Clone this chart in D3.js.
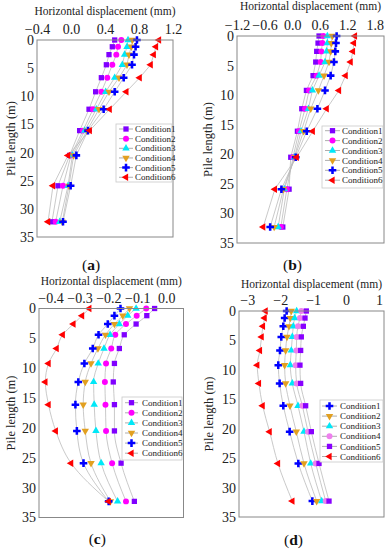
<!DOCTYPE html>
<html>
<head>
<meta charset="utf-8">
<script src="https://cdn.jsdelivr.net/npm/d3@7"></script>
<style>
  body { margin: 0; background: #fff; }
  svg { display: block; font-family: "Liberation Serif", "DejaVu Serif", serif; }
  .axis text { font-size: 14px; fill: #222; font-family: "Liberation Serif", serif; }
  .axis path { display: none; }
  .title { font-size: 11.5px; fill: #222; }
  .ylabel { font-size: 12.5px; fill: #222; }
  .legend text { font-size: 9px; fill: #222; }
  .legend rect { fill: #fff; stroke: #c8c8c8; stroke-width: 0.8; }
  .frame { fill: none; stroke: #888; stroke-width: 1; }
  .series { fill: none; stroke: #bbb; stroke-width: 0.8; }
  .panel-tag { font-size: 15.5px; fill: #111; }
</style>
</head>
<body>
<svg id="chart" width="388" height="550"></svg>
<script>
// depth below pile head (m), shared by all four panels
const depth = [0, 1.2, 2.6, 4.4, 6.7, 9.2, 12.3, 16.1, 20.5, 25.9, 32.3];
const conditions = ["Condition1", "Condition2", "Condition3", "Condition4", "Condition5", "Condition6"];
const yTicks = [0, 5, 10, 15, 20, 25, 30, 35];

const xTicksA = [-0.4, 0, 0.4, 0.8, 1.2];
const xTicksB = [-1.2, -0.6, 0, 0.6, 1.2, 1.8];
const xTicksC = [-0.4, -0.3, -0.2, -0.1, 0];
const xTicksD = [-3, -2, -1, 0, 1];

// horizontal displacement (mm), one row per condition
const dispA = [
  [0.514, 0.486, 0.447, 0.416, 0.357, 0.290, 0.212, 0.102, -0.016, -0.153, -0.224],
  [0.592, 0.553, 0.533, 0.486, 0.427, 0.357, 0.259, 0.141, 0.000, -0.094, -0.180],
  [0.671, 0.659, 0.631, 0.604, 0.514, 0.408, 0.298, 0.161, 0.016, -0.035, -0.133],
  [0.722, 0.710, 0.682, 0.659, 0.565, 0.447, 0.329, 0.188, 0.031, -0.024, -0.102],
  [0.776, 0.760, 0.741, 0.718, 0.620, 0.514, 0.384, 0.200, 0.063, -0.004, -0.094],
  [1.035, 1.000, 0.973, 0.937, 0.808, 0.651, 0.455, 0.220, -0.035, -0.212, -0.270]
];
const dispB = [
  [0.586, 0.564, 0.535, 0.514, 0.456, 0.311, 0.210, 0.115, -0.030, -0.066, -0.203],
  [0.680, 0.658, 0.636, 0.622, 0.535, 0.369, 0.282, 0.150, 0.020, -0.115, -0.246],
  [0.767, 0.767, 0.752, 0.716, 0.586, 0.441, 0.355, 0.195, 0.050, -0.170, -0.304],
  [0.875, 0.853, 0.839, 0.803, 0.694, 0.571, 0.405, 0.250, 0.060, -0.190, -0.391],
  [0.969, 0.955, 0.940, 0.911, 0.839, 0.716, 0.550, 0.318, 0.080, -0.233, -0.478],
  [1.367, 1.345, 1.323, 1.273, 1.164, 1.020, 0.752, 0.449, 0.100, -0.376, -0.630]
];
const dispC = [
  [-0.040, -0.067, -0.104, -0.145, -0.162, -0.179, -0.183, -0.179, -0.179, -0.156, -0.110],
  [-0.069, -0.102, -0.139, -0.176, -0.190, -0.208, -0.212, -0.210, -0.208, -0.187, -0.139],
  [-0.104, -0.133, -0.162, -0.194, -0.215, -0.235, -0.251, -0.249, -0.243, -0.225, -0.168],
  [-0.127, -0.150, -0.179, -0.210, -0.236, -0.260, -0.280, -0.287, -0.280, -0.260, -0.193],
  [-0.158, -0.179, -0.202, -0.234, -0.254, -0.283, -0.304, -0.314, -0.309, -0.286, -0.199],
  [-0.266, -0.291, -0.321, -0.358, -0.379, -0.407, -0.418, -0.407, -0.382, -0.329, -0.199]
];
const dispD = [
  [-1.804, -1.865, -1.906, -1.967, -2.007, -2.058, -2.017, -1.906, -1.713, -1.450, -1.024],
  [-1.663, -1.693, -1.733, -1.794, -1.835, -1.865, -1.835, -1.703, -1.511, -1.278, -0.893],
  [-1.500, -1.561, -1.602, -1.632, -1.663, -1.693, -1.632, -1.460, -1.278, -1.075, -0.741],
  [-1.359, -1.400, -1.460, -1.500, -1.510, -1.531, -1.500, -1.328, -1.156, -0.923, -0.619],
  [-1.207, -1.247, -1.298, -1.359, -1.379, -1.400, -1.379, -1.227, -1.055, -0.822, -0.518],
  [-2.443, -2.473, -2.524, -2.564, -2.615, -2.696, -2.645, -2.534, -2.321, -2.068, -1.632]
];

// marker look per condition
const mk = {
  square: {type: d3.symbolSquare, size: 28, rot: 0},
  circle: {type: d3.symbolCircle, size: 28, rot: 0},
  up: {type: d3.symbolTriangle, size: 24, rot: 0},
  down: {type: d3.symbolTriangle, size: 24, rot: 180},
  cross: {type: d3.symbolCross, size: 32, rot: 0},
  left: {type: d3.symbolTriangle, size: 24, rot: -90}
};
const markersABC = [
  {...mk.square, color: "#8000ff"},
  {...mk.circle, color: "#ff00ff"},
  {...mk.up, color: "#00e8f8"},
  {...mk.down, color: "#e2a020"},
  {...mk.cross, color: "#0000ff"},
  {...mk.left, color: "#ff0000"}
];
const markersD = [
  {...mk.cross, color: "#0000ff"},
  {...mk.down, color: "#e2a020"},
  {...mk.up, color: "#00e8f8"},
  {...mk.circle, color: "#ee80ee"},
  {...mk.square, color: "#8800ff"},
  {...mk.left, color: "#ff0000"}
];

const panels = [
  {tag: "a", data: dispA, ticks: xTicksA, fmt: ".1f", domain: [-0.4, 1.2], markers: markersABC, curve: d3.curveLinear,
   box: {left: 37, right: 173, top: 40, bottom: 237}, titleY: 15, ylabX: 11, tagY: 270,
   legend: {x0: 116, x1: 172, y0: 124, y1: 182, row0: 129, step: 9.65, l0: 119, l1: 133, tx: 135}},
  {tag: "b", data: dispB, ticks: xTicksB, fmt: ".1f", domain: [-1.2, 2.0], markers: markersABC, curve: d3.curveLinear,
   box: {left: 237, right: 384, top: 36, bottom: 243}, titleY: 10, ylabX: 208, tagY: 270,
   legend: {x0: 322, x1: 383, y0: 126, y1: 188, row0: 130.7, step: 9.9, l0: 325, l1: 340, tx: 342}},
  {tag: "c", data: dispC, ticks: xTicksC, fmt: ".1f", domain: [-0.44, 0.06], markers: markersABC, curve: d3.curveMonotoneY,
   box: {left: 39, right: 183.5, top: 308.5, bottom: 517.5}, titleY: 285, ylabX: 11, tagY: 544,
   legend: {x0: 122, x1: 182, y0: 397, y1: 460, row0: 402.7, step: 10.1, l0: 125, l1: 138, tx: 142}},
  {tag: "d", data: dispD, ticks: xTicksD, fmt: "d", domain: [-3.25, 1.15], markers: markersD, curve: d3.curveMonotoneY,
   box: {left: 239, right: 384, top: 311, bottom: 517}, titleY: 288, ylabX: 209, tagY: 545,
   legend: {x0: 320, x1: 383, y0: 400, y1: 462, row0: 406, step: 10.1, l0: 322, l1: 337, tx: 340}}
];

const symbolPath = (m) => d3.symbol().type(m.type).size(m.size)();

const drawPanel = (svg, p) => {
  const b = p.box;
  const g = svg.append("g").attr("class", "panel-" + p.tag);

  const x = d3.scaleLinear().domain(p.domain).range([b.left, b.right]);
  const y = d3.scaleLinear().domain([0, 35]).range([b.top, b.bottom]);

  g.append("g")
    .attr("class", "axis")
    .attr("transform", `translate(0,${b.top})`)
    .call(d3.axisTop(x).tickValues(p.ticks).tickFormat(d3.format(p.fmt)).tickSize(0).tickPadding(6));

  g.append("g")
    .attr("class", "axis")
    .attr("transform", `translate(${b.left},0)`)
    .call(d3.axisLeft(y).tickValues(yTicks).tickSize(0).tickPadding(3));

  g.append("text")
    .attr("class", "title")
    .attr("x", (b.left + b.right) / 2)
    .attr("y", p.titleY)
    .attr("text-anchor", "middle")
    .text("Horizontal displacement (mm)");

  g.append("text")
    .attr("class", "ylabel")
    .attr("transform", `translate(${p.ylabX},${(b.top + b.bottom) / 2}) rotate(-90)`)
    .attr("text-anchor", "middle")
    .attr("dy", "0.35em")
    .text("Pile length (m)");

  const line = d3.line()
    .x(d => x(d[0]))
    .y(d => y(d[1]))
    .curve(p.curve);

  p.data.forEach((row, i) => {
    const pts = row.map((v, k) => [v, depth[k]]);
    g.append("path").attr("class", "series").attr("d", line(pts));
  });

  p.data.forEach((row, i) => {
    const m = p.markers[i];
    g.append("g")
      .selectAll("path")
      .data(row.map((v, k) => [v, depth[k]]))
      .join("path")
      .attr("d", symbolPath(m))
      .attr("fill", m.color)
      .attr("transform", d => `translate(${x(d[0])},${y(d[1])}) rotate(${m.rot})`);
  });

  g.append("rect")
    .attr("class", "frame")
    .attr("x", b.left)
    .attr("y", b.top)
    .attr("width", b.right - b.left)
    .attr("height", b.bottom - b.top);

  const L = p.legend;
  const lg = g.append("g").attr("class", "legend");
  lg.append("rect")
    .attr("x", L.x0).attr("y", L.y0)
    .attr("width", L.x1 - L.x0).attr("height", L.y1 - L.y0);
  conditions.forEach((name, i) => {
    const ry = L.row0 + i * L.step;
    const m = p.markers[i];
    lg.append("line")
      .attr("x1", L.l0).attr("x2", L.l1)
      .attr("y1", ry).attr("y2", ry)
      .attr("stroke", "#999").attr("stroke-width", 0.8);
    lg.append("path")
      .attr("d", symbolPath(m))
      .attr("fill", m.color)
      .attr("transform", `translate(${(L.l0 + L.l1) / 2},${ry}) rotate(${m.rot})`);
    lg.append("text")
      .attr("x", L.tx).attr("y", ry)
      .attr("dy", "0.35em")
      .text(name);
  });

  const tag = g.append("text")
    .attr("class", "panel-tag")
    .attr("x", (b.left + b.right) / 2 + (p.tag === "a" || p.tag === "c" ? -14 : -18))
    .attr("y", p.tagY)
    .attr("text-anchor", "middle");
  tag.append("tspan").text("(");
  tag.append("tspan").attr("font-weight", "bold").text(p.tag);
  tag.append("tspan").text(")");
};

const main = () => {
  const svg = d3.select("#chart");
  panels.forEach(p => drawPanel(svg, p));
};

main();
</script>
</body>
</html>
